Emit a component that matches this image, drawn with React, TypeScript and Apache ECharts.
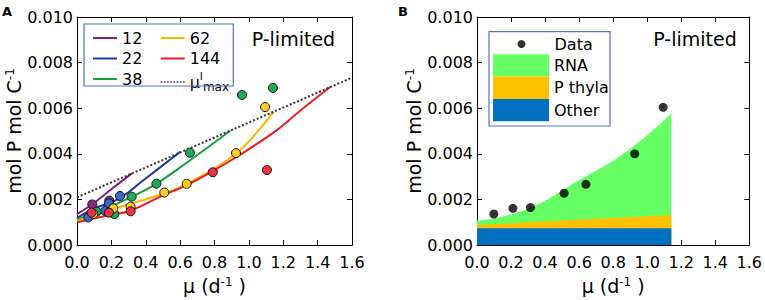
import React, { useEffect, useRef } from 'react';
import * as echarts from 'echarts';

// ---- Panel A data ----
const groupNames = ['12', '22', '38', '62', '144'];
const lineColors = ['#7f1f80', '#1f3c9c', '#16a03c', '#ffb400', '#ee1c24'];
const pointColors = ['#8a2a8c', '#3a68cc', '#1faa55', '#ffcc22', '#ee3344'];

const line12 = [[0, 0.00135], [0.097, 0.00183], [0.194, 0.00241], [0.32, 0.00314]];
const line22 = [[0, 0.00118], [0.1, 0.0016], [0.248, 0.00205], [0.388, 0.00285], [0.601, 0.00409]];
const line38 = [[0, 0.00112], [0.194, 0.00168], [0.32, 0.00212], [0.461, 0.00268], [0.66, 0.00373], [0.892, 0.00501]];
const line62 = [[0, 0.00106], [0.194, 0.00154], [0.51, 0.00227], [0.64, 0.00268], [0.927, 0.00402], [1.144, 0.00585]];
const line144 = [[0, 0.001], [0.194, 0.00132], [0.31, 0.0015], [0.504, 0.00219], [0.64, 0.00263], [0.785, 0.00322], [0.93, 0.00387], [1.163, 0.00504], [1.3, 0.0059], [1.475, 0.00694]];
const muMaxLine = [[0, 0.00209], [1.6, 0.00734]];

const pts12 = [[0.089, 0.00178], [0.188, 0.00195]];
const pts22 = [[0.066, 0.00121], [0.163, 0.0015], [0.186, 0.00183], [0.25, 0.00215]];
const pts38 = [[0.114, 0.00146], [0.217, 0.00136], [0.318, 0.00212], [0.462, 0.00269], [0.657, 0.00405], [0.96, 0.00658], [1.14, 0.00689]];
const pts62 = [[0.095, 0.00136], [0.211, 0.00161], [0.312, 0.00168], [0.508, 0.0023], [0.638, 0.00268], [0.925, 0.00403], [1.094, 0.00605]];
const pts144 = [[0.085, 0.00142], [0.186, 0.00142], [0.312, 0.00148], [0.79, 0.00319], [1.105, 0.00329]];

const groupLines = [line12, line22, line38, line62, line144];
const groupPoints = [pts12, pts22, pts38, pts62, pts144];

// ---- Panel B data ----
const dataB = [[0.099, 0.00136], [0.211, 0.00161], [0.314, 0.00164], [0.512, 0.00227], [0.64, 0.00266], [0.927, 0.004], [1.094, 0.00604]];
const otherTop = [[0, 0.00073], [1.142, 0.00073]];
const thylaTop = [[0, 0.00088], [1.142, 0.00132]];
const rnaTop = [[0, 0.00107], [0.15, 0.00124], [0.35, 0.00175], [0.6, 0.00285], [0.79, 0.00365], [0.99, 0.00475], [1.142, 0.00578]];

const stackNames = ['RNA', 'P thyla', 'Other'];
const stackColors = ['#66ff66', '#ffc000', '#0070c0'];

const FONT = 'DejaVu Sans';

// legend icon shapes (solid bar and dotted bar)
const solidIcon = 'path://M0,0h24v2h-24z';
let dotted = '';
for (let i = 0; i < 8; i++) dotted += `M${i * 3},0h1.5v1.6h-1.5z`;
const dottedIcon = 'path://' + dotted;

function makeX(gridIndex: number, top: boolean) {
  return {
    gridIndex,
    type: 'value',
    min: 0,
    max: 1.6,
    interval: 0.2,
    position: top ? 'top' : 'bottom',
    name: top ? '' : 'μ (d{sup|-1} )',
    nameLocation: 'middle',
    nameGap: 31,
    nameTextStyle: {
      fontSize: 19,
      color: '#000',
      fontFamily: FONT,
      rich: { sup: { fontSize: 12, verticalAlign: 'top', color: '#000', fontFamily: FONT } },
    },
    axisLine: { show: true, onZero: false, lineStyle: { color: '#000', width: 1 } },
    axisTick: { show: true, inside: true, length: 5, lineStyle: { color: '#000' } },
    axisLabel: {
      show: !top,
      fontSize: 16,
      color: '#000',
      fontFamily: FONT,
      margin: 9,
      formatter: (v: number) => v.toFixed(1),
    },
    splitLine: { show: false },
  };
}

function makeY(gridIndex: number, right: boolean) {
  return {
    gridIndex,
    type: 'value',
    min: 0,
    max: 0.01,
    interval: 0.002,
    position: right ? 'right' : 'left',
    name: right ? '' : 'mol P mol C{sup|-1}',
    nameLocation: 'middle',
    nameGap: 48,
    nameTextStyle: {
      fontSize: 19,
      color: '#000',
      fontFamily: FONT,
      rich: { sup: { fontSize: 12, verticalAlign: 'top', color: '#000', fontFamily: FONT } },
    },
    axisLine: { show: true, onZero: false, lineStyle: { color: '#000', width: 1 } },
    axisTick: { show: true, inside: true, length: 5, lineStyle: { color: '#000' } },
    axisLabel: {
      show: !right,
      fontSize: 16,
      color: '#000',
      fontFamily: FONT,
      margin: 4,
      formatter: (v: number) => v.toFixed(3),
    },
    splitLine: { show: false },
  };
}

export default function App() {
  const ref = useRef<HTMLDivElement>(null);

  useEffect(() => {
    if (!ref.current) return;
    const chart = echarts.init(ref.current, undefined, { renderer: 'svg' });

    const series: any[] = [];
    groupNames.forEach((g, i) => {
      series.push({
        name: g,
        type: 'line',
        xAxisIndex: 0,
        yAxisIndex: 0,
        data: groupLines[i],
        smooth: 0.4,
        symbol: 'none',
        lineStyle: { color: lineColors[i], width: 2 },
        itemStyle: { color: lineColors[i] },
        z: 2,
      });
    });
    series.push({
      name: 'mumax',
      type: 'line',
      xAxisIndex: 0,
      yAxisIndex: 0,
      data: muMaxLine,
      symbol: 'none',
      lineStyle: { color: '#333', width: 2, type: 'dotted' },
      itemStyle: { color: '#333' },
      z: 2,
    });
    groupNames.forEach((g, i) => {
      series.push({
        name: g + ' data',
        type: 'scatter',
        xAxisIndex: 0,
        yAxisIndex: 0,
        data: groupPoints[i],
        symbolSize: 9,
        itemStyle: { color: pointColors[i], borderColor: '#111', borderWidth: 1, opacity: 1 },
        z: 3,
      });
    });

    const stackData = [rnaTop, thylaTop, otherTop];
    stackNames.forEach((n, i) => {
      series.push({
        name: n,
        type: 'line',
        xAxisIndex: 1,
        yAxisIndex: 1,
        data: stackData[i],
        smooth: i === 0 ? 0.4 : false,
        symbol: 'none',
        lineStyle: { width: 0, color: stackColors[i] },
        itemStyle: { color: stackColors[i] },
        areaStyle: { color: stackColors[i], opacity: 1 },
        z: 2 + i * 0.1,
      });
    });
    series.push({
      name: 'Data',
      type: 'scatter',
      xAxisIndex: 1,
      yAxisIndex: 1,
      data: dataB,
      symbolSize: 9,
      itemStyle: { color: '#000' },
      z: 4,
    });

    const legendText = {
      fontSize: 16,
      color: '#000',
      fontFamily: FONT,
      rich: {
        mu: { fontSize: 16, color: '#000', fontFamily: FONT, lineHeight: 22 },
        sup: { fontSize: 11, color: '#000', fontFamily: FONT, verticalAlign: 'top', lineHeight: 12 },
        sub: { fontSize: 12, color: '#000', fontFamily: FONT, verticalAlign: 'bottom', lineHeight: 14 },
      },
    };
    const legendFormatter = (name: string) => (name === 'mumax' ? '{mu|μ}{sup|l}{sub|max}' : name);
    const lineLegendItem = (name: string, i: number) => ({
      name,
      icon: solidIcon,
      itemStyle: { color: lineColors[i] },
    });

    chart.setOption({
      animation: false,
      textStyle: { fontFamily: FONT },
      grid: [
        { left: 77, top: 17, width: 275, height: 228 },
        { left: 477, top: 17, width: 275, height: 228 },
      ],
      xAxis: [makeX(0, false), makeX(1, false), makeX(0, true), makeX(1, true)],
      yAxis: [makeY(0, false), makeY(1, false), makeY(0, true), makeY(1, true)],
      legend: [
        {
          data: [lineLegendItem('12', 0), lineLegendItem('22', 1), lineLegendItem('38', 2)],
          orient: 'vertical',
          left: 93,
          top: 30,
          padding: 0,
          itemWidth: 24,
          itemHeight: 14,
          itemGap: 4.5,
          textStyle: legendText,
          formatter: legendFormatter,
          selectedMode: false,
        },
        {
          data: [
            lineLegendItem('62', 3),
            lineLegendItem('144', 4),
            { name: 'mumax', icon: dottedIcon, itemStyle: { color: '#333' } },
          ],
          orient: 'vertical',
          left: 160.7,
          top: 30,
          padding: 0,
          itemWidth: 24,
          itemHeight: 14,
          itemGap: 4.5,
          textStyle: legendText,
          formatter: legendFormatter,
          selectedMode: false,
        },
        {
          data: [{ name: 'Data', icon: 'circle', itemStyle: { color: '#000' } }],
          orient: 'vertical',
          left: 517.5,
          top: 36,
          padding: 0,
          itemWidth: 56,
          itemHeight: 8,
          textStyle: { fontSize: 16, color: '#000', fontFamily: FONT },
          selectedMode: false,
        },
        {
          data: stackNames.map((n, i) => ({ name: n, icon: 'rect', itemStyle: { color: stackColors[i] } })),
          orient: 'vertical',
          left: 493,
          top: 54.3,
          padding: 0,
          itemWidth: 56,
          itemHeight: 22.3,
          itemGap: 0,
          textStyle: { fontSize: 16, color: '#000', fontFamily: FONT },
          selectedMode: false,
        },
      ],
      graphic: [
        { type: 'rect', shape: { x: 84, y: 24, width: 149.3, height: 62 }, style: { fill: 'none', stroke: '#4a74c8', lineWidth: 1.2 }, z: 10 },
        { type: 'rect', shape: { x: 489, y: 31.7, width: 121, height: 94.3 }, style: { fill: 'none', stroke: '#4a74c8', lineWidth: 1.2 }, z: 10 },
        { type: 'text', x: 251.7, y: 39, style: { text: 'P-limited', fontSize: 19, fill: '#000', fontFamily: FONT, textVerticalAlign: 'middle' } },
        { type: 'text', x: 653.3, y: 39, style: { text: 'P-limited', fontSize: 19, fill: '#000', fontFamily: FONT, textVerticalAlign: 'middle' } },
        { type: 'text', x: 2, y: 11, style: { text: 'A', fontSize: 13, fontWeight: 'bold', fill: '#000', fontFamily: FONT, textVerticalAlign: 'middle' } },
        { type: 'text', x: 398, y: 11, style: { text: 'B', fontSize: 13, fontWeight: 'bold', fill: '#000', fontFamily: FONT, textVerticalAlign: 'middle' } },
      ],
      series,
    });

    return () => chart.dispose();
  }, []);

  return <div ref={ref} style={{ position: 'fixed', left: 0, top: 0, width: 765, height: 300, background: '#fff' }} />;
}
